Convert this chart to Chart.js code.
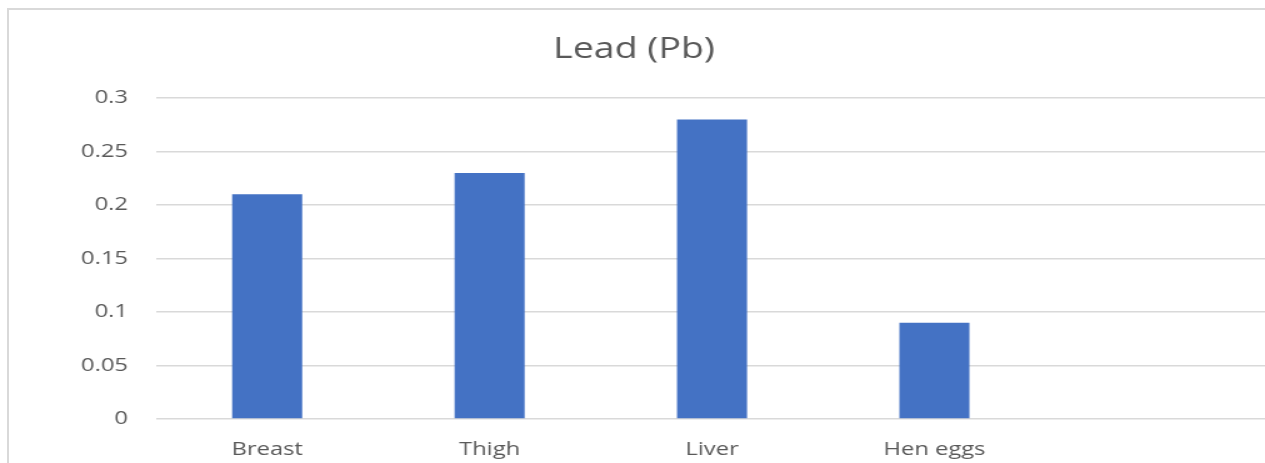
<!DOCTYPE html>
<html>
<head>
<meta charset="utf-8">
<script src="https://cdn.jsdelivr.net/npm/chart.js@4.4.1/dist/chart.umd.min.js"></script>
<style>
    html, body { margin: 0; padding: 0; background: #fff; overflow: hidden; }
    #frame {
        position: absolute; left: 7px; top: 8px;
        width: 1300px; height: 500px;
        border: 2px solid #d9d9d9; box-sizing: border-box;
    }
    #wrap { position: absolute; left: 0; top: 0; height: 463px; transform-origin: 0 0; }
</style>
</head>
<body>
<div id="frame"></div>
<div id="wrap"><canvas id="leadChart"></canvas></div>
<script>
/* ===============================
   DATA
=================================*/
const categories = ["Breast", "Thigh", "Liver", "Hen eggs", ""];
const leadValues = [0.21, 0.23, 0.28, 0.09, null];
const yTicks = [0, 0.05, 0.1, 0.15, 0.2, 0.25, 0.3];

const TEXT = "#595959";
const GRID = "#d9d9d9";
const FONT = "'Open Sans', 'Noto Sans', sans-serif";

// the reference picture is stretched sideways, so draw narrow and scale the box
const STRETCH = 1.25;
const wrap = document.getElementById("wrap");
wrap.style.width = (1300 / STRETCH) + "px";
wrap.style.transform = `scaleX(${STRETCH})`;

new Chart(document.getElementById("leadChart"), {
    type: "bar",
    data: {
        labels: categories,
        datasets: [{
            label: "Lead (Pb)",
            data: leadValues,
            backgroundColor: "#4472c4",
            barPercentage: 0.315,
            categoryPercentage: 1
        }]
    },
    options: {
        responsive: true,
        maintainAspectRatio: false,
        animation: false,
        layout: { padding: { left: 0, top: 0, bottom: 0, right: 32 / STRETCH } },
        plugins: {
            legend: { display: false },
            tooltip: { enabled: false },
            title: {
                display: true,
                text: "Lead (Pb)",
                color: TEXT,
                font: { family: FONT, size: 30, weight: "normal" },
                padding: { top: 31, bottom: 31 }
            }
        },
        scales: {
            x: {
                grid: { display: false },
                border: { display: false },
                ticks: { color: TEXT, font: { family: FONT, size: 19 }, padding: 11 },
                afterFit: s => { s.height = 44; }
            },
            y: {
                min: 0,
                max: 0.3,
                grid: { color: GRID, lineWidth: 1.5, drawTicks: false },
                border: { display: false },
                ticks: {
                    color: TEXT,
                    font: { family: FONT, size: 19 },
                    padding: 28 / STRETCH,
                    callback: v => String(Number(v.toFixed(2)))
                },
                afterBuildTicks: s => { s.ticks = yTicks.map(v => ({ value: v })); },
                afterFit: s => { s.width = 156 / STRETCH; }
            }
        }
    }
});
</script>
</body>
</html>
